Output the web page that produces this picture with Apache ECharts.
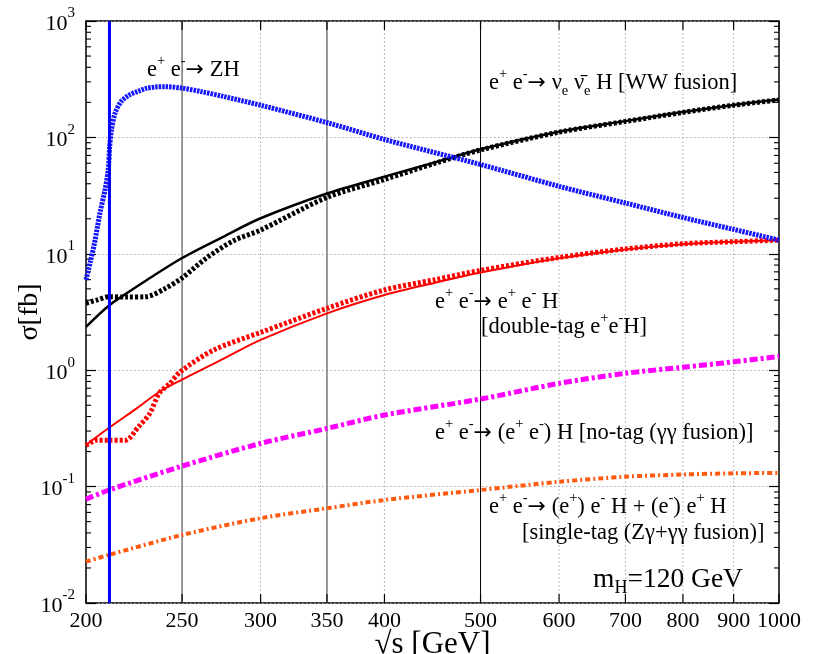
<!DOCTYPE html>
<html><head><meta charset="utf-8">
<script src="https://cdn.jsdelivr.net/npm/echarts@6/dist/echarts.min.js"></script>
<style>html,body{margin:0;padding:0;background:#fff}#c{width:817px;height:654px}</style>
</head><body><div id="c"></div>
<script>
const FONT = 'Liberation Serif';
const X_MIN = 200, X_MAX = 1000, Y_MIN = 0.01, Y_MAX = 1000;

// e+ e- -> ZH
const zhX = [200, 202, 204, 206.6, 209, 210.6, 211.3, 212.2, 214, 217, 221, 226, 230, 235, 240, 250, 261, 275, 300, 350, 400, 500, 600, 700, 800, 900, 1000];
const zhY = [5.96, 8.5, 12.4, 22.4, 35.3, 52.5, 83, 116, 162, 203, 231, 250, 264, 271, 273, 265, 248, 225, 189, 134, 96, 58.5, 38, 27.3, 20.5, 16.2, 13.1];
// WW fusion (solid and dotted)
const wwX = [200, 211, 220, 230, 250, 275, 300, 350, 400, 450, 500, 600, 700, 800, 900, 1000];
const wwY = [2.36, 3.6, 4.6, 5.9, 9.2, 14, 20.2, 33, 46, 61, 79, 112, 138, 165, 190, 212];
const wwDotX = [200, 205, 211, 220, 230, 240, 250, 265, 282, 300, 350, 400, 450, 500, 600, 700, 800, 900, 1000];
const wwDotY = [3.76, 4.0, 4.28, 4.25, 4.28, 5.0, 6.2, 9.3, 13.0, 16.0, 30.5, 43.5, 60, 78, 111, 137, 164, 189, 210];
// double-tag e+e-H (solid and dotted)
const dtX = [200, 211, 225, 237, 250, 275, 300, 350, 400, 450, 500, 600, 700, 800, 900, 1000];
const dtY = [0.228, 0.32, 0.47, 0.65, 0.83, 1.25, 1.82, 3.08, 4.43, 5.65, 6.9, 9.15, 10.9, 12.1, 12.7, 13.1];
const dtDotX = [200, 205, 211, 219, 226, 232, 237, 243, 249, 269, 300, 350, 400, 450, 500, 600, 700, 800, 900, 1000];
const dtDotY = [0.225, 0.25, 0.25, 0.25, 0.327, 0.427, 0.633, 0.77, 0.97, 1.49, 2.11, 3.4, 4.89, 6.0, 7.2, 9.3, 11.0, 12.2, 12.7, 13.1];
// no-tag (gamma gamma fusion)
const ntX = [200, 211, 250, 300, 350, 400, 500, 600, 700, 800, 900, 1000];
const ntY = [0.078, 0.0935, 0.150, 0.235, 0.316, 0.412, 0.565, 0.771, 0.94, 1.06, 1.18, 1.31];
// single-tag
const stX = [200, 211, 250, 300, 350, 400, 500, 600, 700, 800, 900, 1000];
const stY = [0.0227, 0.0259, 0.0384, 0.0535, 0.0651, 0.0767, 0.0935, 0.110, 0.1216, 0.127, 0.130, 0.131];
// ZH threshold (mZ + mH)
const thresholdX = 211.2;

// axis ticks
const xTickLabels = [200, 250, 300, 350, 400, 500, 600, 700, 800, 900, 1000];
const xSolidLines = [250, 350];
const xDarkLines = [500];
const xDottedLines = [300, 400, 600, 700, 800, 900];
const yDecades = [0.01, 0.1, 1, 10, 100];
const yMinorMult = [2, 3, 4, 5, 6, 7, 8, 9];
const yMinor = [];
yDecades.forEach(d => yMinorMult.forEach(m => yMinor.push(d * m)));

const pair = (xs, ys) => xs.map((x, i) => [x, ys[i]]);

const chart = echarts.init(document.getElementById('c'), null, {renderer: 'canvas'});

const sup = {fontFamily: FONT, fontSize: 14.5, lineHeight: 17, verticalAlign: 'top', fill: '#000'};
const sub = {fontFamily: FONT, fontSize: 14.5, lineHeight: 21, verticalAlign: 'bottom', fill: '#000'};
const base = {fontFamily: FONT, fontSize: 22.5, lineHeight: 32, fill: '#000'};
const arr = {fontFamily: 'DejaVu Sans', fontSize: 22, lineHeight: 32, fill: '#000'};
const richT = {n: base, sup: sup, sub: sub, a: arr,
  m: {fontFamily: FONT, fontSize: 27.5, lineHeight: 34, fill: '#000'},
  msub: {fontFamily: FONT, fontSize: 18, lineHeight: 24, verticalAlign: 'bottom', fill: '#000'}};

function label(x, y, text) {
  return {type: 'text', x: x, y: y, z: 50, silent: true,
    style: {text: text, rich: richT, align: 'left', verticalAlign: 'middle'}};
}
const EE = '{n|e}{sup|+}{n| e}{sup|-}{a|→}';

const option = {
  animation: false,
  backgroundColor: '#fff',
  grid: {left: 86, top: 21, right: 38, bottom: 51, containLabel: false, outerBoundsMode: 'none',
    show: true, borderColor: '#000', borderWidth: 1.5, backgroundColor: '#fff'},
  xAxis: {
    type: 'log', logBase: 10, min: X_MIN, max: X_MAX,
    axisLine: {show: false}, axisTick: {show: false}, axisLabel: {show: false}, splitLine: {show: false},
    name: '√s [GeV]', nameLocation: 'middle', nameGap: 26,
    nameTextStyle: {fontFamily: FONT, fontSize: 31, color: '#000'}
  },
  yAxis: [{
    type: 'log', logBase: 10, min: Y_MIN, max: Y_MAX,
    axisLine: {show: false},
    axisTick: {show: true, inside: true, length: 10, lineStyle: {color: '#000', width: 1.2}},
    splitLine: {show: true, lineStyle: {color: '#aaa', width: 1, type: [1.5, 2.5]}},
    axisLabel: {
      margin: 11,
      formatter: v => '{b|10}{e|' + Math.round(Math.log10(v)) + '}',
      rich: {
        b: {fontFamily: FONT, fontSize: 22, lineHeight: 30, color: '#000', padding: [6, 0, 0, 0]},
        e: {fontFamily: FONT, fontSize: 15, lineHeight: 18, color: '#000', verticalAlign: 'top'}
      }
    },
    name: 'σ[fb]', nameLocation: 'middle', nameGap: 42, nameRotate: 90, nameMoveOverlap: false,
    nameTextStyle: {fontFamily: FONT, fontSize: 28, color: '#000'}
  }, {
    type: 'log', logBase: 10, min: Y_MIN, max: Y_MAX, position: 'right',
    axisLine: {show: false},
    axisTick: {show: true, inside: true, length: 10, lineStyle: {color: '#000', width: 1.2}},
    axisLabel: {show: false}, splitLine: {show: false}
  }],
  series: [
    {
      type: 'custom', name: 'xgrid', coordinateSystem: 'cartesian2d', z: 1, silent: true, clip: false,
      data: xTickLabels.map(v => [v, Y_MIN]),
      renderItem: (params, api) => {
        const v = api.value(0);
        const b = api.coord([v, Y_MIN]);
        const t = api.coord([v, Y_MAX]);
        const ch = [];
        let ls = null;
        if (xSolidLines.indexOf(v) >= 0) ls = {stroke: '#808080', lineWidth: 1.6};
        else if (xDarkLines.indexOf(v) >= 0) ls = {stroke: '#000', lineWidth: 1};
        else if (xDottedLines.indexOf(v) >= 0) ls = {stroke: '#aaa', lineWidth: 1, lineDash: [1.5, 2.5]};
        if (ls) ch.push({type: 'line', shape: {x1: b[0], y1: b[1], x2: t[0], y2: t[1]}, style: ls});
        ch.push({type: 'line', shape: {x1: b[0], y1: b[1], x2: b[0], y2: b[1] - 9}, style: {stroke: '#000', lineWidth: 1.2}});
        ch.push({type: 'line', shape: {x1: t[0], y1: t[1], x2: t[0], y2: t[1] + 9}, style: {stroke: '#000', lineWidth: 1.2}});
        ch.push({type: 'text', style: {text: String(v), x: b[0], y: b[1] + 18, align: 'center', verticalAlign: 'middle',
          fontFamily: FONT, fontSize: 22, fill: '#000'}});
        return {type: 'group', children: ch};
      }
    },
    {
      type: 'custom', name: 'yminor', coordinateSystem: 'cartesian2d', z: 2, silent: true, clip: false,
      data: yMinor.map(v => [X_MIN, v]),
      renderItem: (params, api) => {
        const v = api.value(1);
        const l = api.coord([X_MIN, v]);
        const r = api.coord([X_MAX, v]);
        return {type: 'group', children: [
          {type: 'line', shape: {x1: l[0], y1: l[1], x2: l[0] + 5, y2: l[1]}, style: {stroke: '#000', lineWidth: 1.1}},
          {type: 'line', shape: {x1: r[0], y1: r[1], x2: r[0] - 5, y2: r[1]}, style: {stroke: '#000', lineWidth: 1.1}}
        ]};
      }
    },
    {type: 'line', name: 'single-tag', data: pair(stX, stY), showSymbol: false, smooth: 0.3, z: 3,
      lineStyle: {color: '#ff5a10', width: 4, type: [5, 3, 2, 3]}},
    {type: 'line', name: 'no-tag', data: pair(ntX, ntY), showSymbol: false, smooth: 0.3, z: 3,
      lineStyle: {color: '#ff00ff', width: 5, type: [8, 3, 3, 3]}},
    {type: 'line', name: 'double-tag dotted', data: pair(dtDotX, dtDotY), showSymbol: false, smooth: 0.3, z: 3,
      lineStyle: {color: '#ff0000', width: 5, type: [3, 2]}},
    {type: 'line', name: 'double-tag', data: pair(dtX, dtY), showSymbol: false, smooth: 0.3, z: 4,
      lineStyle: {color: '#ff0000', width: 2}},
    {type: 'line', name: 'WW dotted', data: pair(wwDotX, wwDotY), showSymbol: false, smooth: 0.3, z: 3,
      lineStyle: {color: '#000', width: 5, type: [3, 2]}},
    {type: 'line', name: 'WW', data: pair(wwX, wwY), showSymbol: false, smooth: 0.3, z: 4,
      lineStyle: {color: '#000', width: 2.5}},
    {type: 'line', name: 'ZH', data: pair(zhX, zhY), showSymbol: false, smooth: 0.3, z: 5,
      lineStyle: {color: '#1414ff', width: 5, type: [2.5, 1]}},
    {type: 'line', name: 'threshold', data: [[thresholdX, Y_MIN], [thresholdX, Y_MAX]], showSymbol: false, z: 6,
      lineStyle: {color: '#0000ff', width: 3}}
  ],
  graphic: [
    label(147, 70, EE + '{n| ZH}'),
    label(489, 83, EE + '{n| ν}{sub|e}{n| ν̄}{sub|e}{n| H [WW fusion]}'),
    label(435, 302, EE + '{n| e}{sup|+}{n| e}{sup|-}{n| H}'),
    label(481, 327, '{n|[double-tag e}{sup|+}{n|e}{sup|-}{n|H]}'),
    label(435, 433, EE + '{n| (e}{sup|+}{n| e}{sup|-}{n|) H [no-tag (γγ fusion)]}'),
    label(489, 507, EE + '{n| (e}{sup|+}{n|) e}{sup|-}{n| H + (e}{sup|-}{n|) e}{sup|+}{n| H}'),
    label(522, 533, '{n|[single-tag (Zγ+γγ fusion)]}'),
    label(593, 580, '{m|m}{msub|H}{m|=120 GeV}')
  ]
};
chart.setOption(option);
</script>
</body></html>
